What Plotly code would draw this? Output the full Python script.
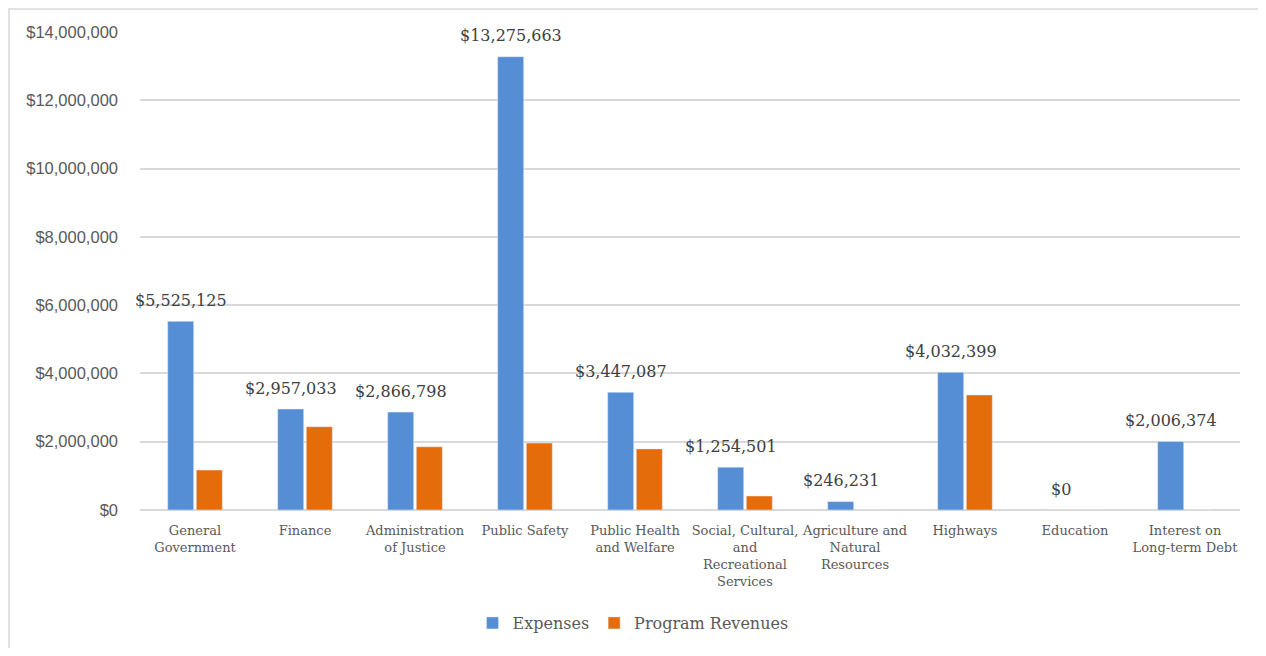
import plotly.graph_objects as go

categories = [
    "General<br>Government",
    "Finance",
    "Administration<br>of Justice",
    "Public Safety",
    "Public Health<br>and Welfare",
    "Social, Cultural,<br>and<br>Recreational<br>Services",
    "Agriculture and<br>Natural<br>Resources",
    "Highways",
    "Education",
    "Interest on<br>Long-term Debt",
]
expenses = [5525125, 2957033, 2866798, 13275663, 3447087, 1254501, 246231, 4032399, 0, 2006374]
program_revenues = [1170000, 2440000, 1850000, 1960000, 1790000, 410000, 0, 3370000, 0, 0]
tick_vals = [0, 2000000, 4000000, 6000000, 8000000, 10000000, 12000000, 14000000]

# page places the figure 8px in from the top-left corner
W, H = 1250, 640
L, R, T, B = 132, 18, 24, 138
# plot area in window pixels
PX0, PX1, PY0, PY1 = 140, 1240, 32, 510
BARGAP, GROUPGAP = 0.48, 0.09

serif = "DejaVu Serif"
gray = "#595959"

fig = go.Figure()
fig.add_trace(go.Bar(
    name="Expenses", x=categories, y=expenses,
    marker=dict(color="#558ED5"),
))
fig.add_trace(go.Bar(
    name="Program Revenues", x=categories, y=program_revenues,
    marker=dict(color="#E46C0A"),
))

# data labels above the Expenses bars (left bar of each group)
cat_px = (PX1 - PX0) / len(categories)
bar_offset = -cat_px * (1 - BARGAP) / 4
for c, v in zip(categories, expenses):
    fig.add_annotation(x=c, y=v, text="${:,.0f}".format(v), showarrow=False,
                       xshift=bar_offset, yshift=21, yanchor="middle",
                       font=dict(family=serif, size=16, color="#404040"))

def px_x(p):
    return (p - PX0) / (PX1 - PX0)

def px_y(p):
    return (PY1 - p) / (PY1 - PY0)

fig.update_layout(
    width=W, height=H,
    margin=dict(l=L, r=R, t=T, b=B, autoexpand=False),
    paper_bgcolor="white", plot_bgcolor="white",
    font=dict(family=serif, color=gray),
    barmode="group", bargap=BARGAP, bargroupgap=GROUPGAP,
    showlegend=True,
    legend=dict(orientation="h", x=px_x(633), xanchor="center", y=px_y(623), yanchor="middle",
                font=dict(family=serif, size=16, color=gray), itemwidth=30),
    xaxis=dict(range=[-0.5, len(categories) - 0.5],
               tickfont=dict(family=serif, size=13, color=gray), showline=False,
               showgrid=False, ticks="", ticklabelstandoff=11, automargin=False),
    yaxis=dict(range=[0, 14000000], tickvals=tick_vals, tickformat="$,.0f",
               tickfont=dict(family="Liberation Sans", size=16.5, color=gray),
               gridcolor="#D9D9D9", gridwidth=1.5, zeroline=True,
               zerolinecolor="#D9D9D9", zerolinewidth=1.5, ticks="", ticklen=0,
               ticklabelstandoff=21, automargin=False),
    shapes=[dict(type="rect", xref="paper", yref="paper",
                 x0=px_x(9), x1=px_x(1300), y0=px_y(700), y1=px_y(9),
                 line=dict(color="#D9D9D9", width=1.5), fillcolor="rgba(0,0,0,0)", layer="below")],
)

fig.write_html("out.html")
